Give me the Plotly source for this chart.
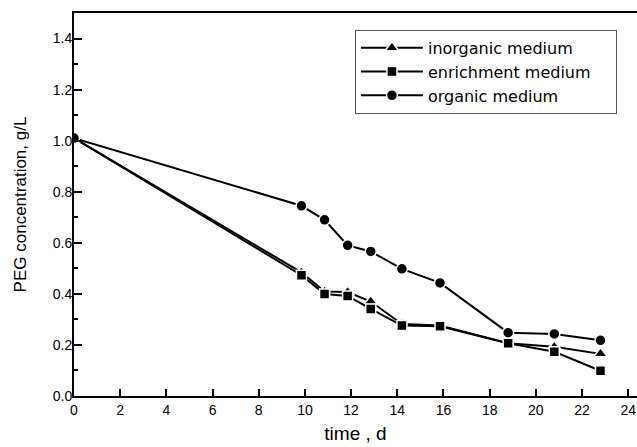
import plotly.graph_objects as go

days = [0, 9.85, 10.85, 11.85, 12.85, 14.2, 15.85, 18.8, 20.8, 22.8]
inorganic = [1.01, 0.484, 0.409, 0.407, 0.37, 0.282, 0.276, 0.207, 0.193, 0.165]
enrichment = [1.01, 0.473, 0.399, 0.392, 0.341, 0.276, 0.273, 0.207, 0.173, 0.099]
organic = [1.01, 0.745, 0.69, 0.59, 0.566, 0.498, 0.443, 0.248, 0.243, 0.218]
series_names = ["inorganic medium", "enrichment medium", "organic medium"]
x_ticks = list(range(0, 26, 2))
y_ticks = [0.0, 0.2, 0.4, 0.6, 0.8, 1.0, 1.2, 1.4]

FONT = "Liberation Sans, Arial, sans-serif"
LEG_FONT = "DejaVu Sans, Liberation Sans, sans-serif"

fig = go.Figure()
for name, vals, sym, size in [
    (series_names[0], inorganic, "triangle-up", 12),
    (series_names[1] + "\u00a0\u00a0\u00a0\u00a0", enrichment, "square", 10),
    (series_names[2], organic, "circle", 11),
]:
    fig.add_trace(go.Scatter(
        x=days, y=vals, name=name, mode="lines+markers",
        line=dict(color="black", width=2),
        marker=dict(symbol=sym, size=size, color="black",
                    line=dict(color="white", width=1.5)),
    ))

fig.update_layout(
    width=637, height=447,
    margin=dict(l=74, r=0, t=13, b=51),
    paper_bgcolor="white", plot_bgcolor="white",
    font=dict(family=FONT, color="black", size=14),
    showlegend=True,
    legend=dict(
        x=0.499, y=0.956, xanchor="left", yanchor="top",
        bgcolor="white", bordercolor="#555555", borderwidth=1,
        font=dict(family=LEG_FONT, size=16, color="black"),
        tracegroupgap=0, itemwidth=62,
    ),
)
fig.update_xaxes(
    range=[0, 24.38], tickmode="array", tickvals=x_ticks,
    ticktext=[str(v) for v in x_ticks], automargin=False,
    ticks="inside", ticklen=7, tickwidth=1.5, tickcolor="black",
    showline=True, linecolor="black", linewidth=2, mirror=True,
    showgrid=False, zeroline=False,
    tickfont=dict(family=FONT, size=14),
    title=dict(text="time , d", font=dict(family=FONT, size=19), standoff=10),
)
fig.update_yaxes(
    range=[0, 1.5], tickmode="array", tickvals=y_ticks,
    ticktext=[f"{v:.1f}" for v in y_ticks], automargin=True,
    ticks="inside", ticklen=8, tickwidth=1.5, tickcolor="black",
    ticklabelstandoff=-3,
    minor=dict(dtick=0.1, ticks="inside", ticklen=4, tickwidth=1.5, tickcolor="black", showgrid=False),
    showline=True, linecolor="black", linewidth=2, mirror=False,
    showgrid=False, zeroline=False,
    tickfont=dict(family=FONT, size=14),
    title=dict(text="PEG concentration, g/L", font=dict(family=FONT, size=17), standoff=22),
)
fig.write_html("out.html", config={"displayModeBar": False},
               post_script="document.body.style.margin='0';document.body.style.overflow='hidden';")
